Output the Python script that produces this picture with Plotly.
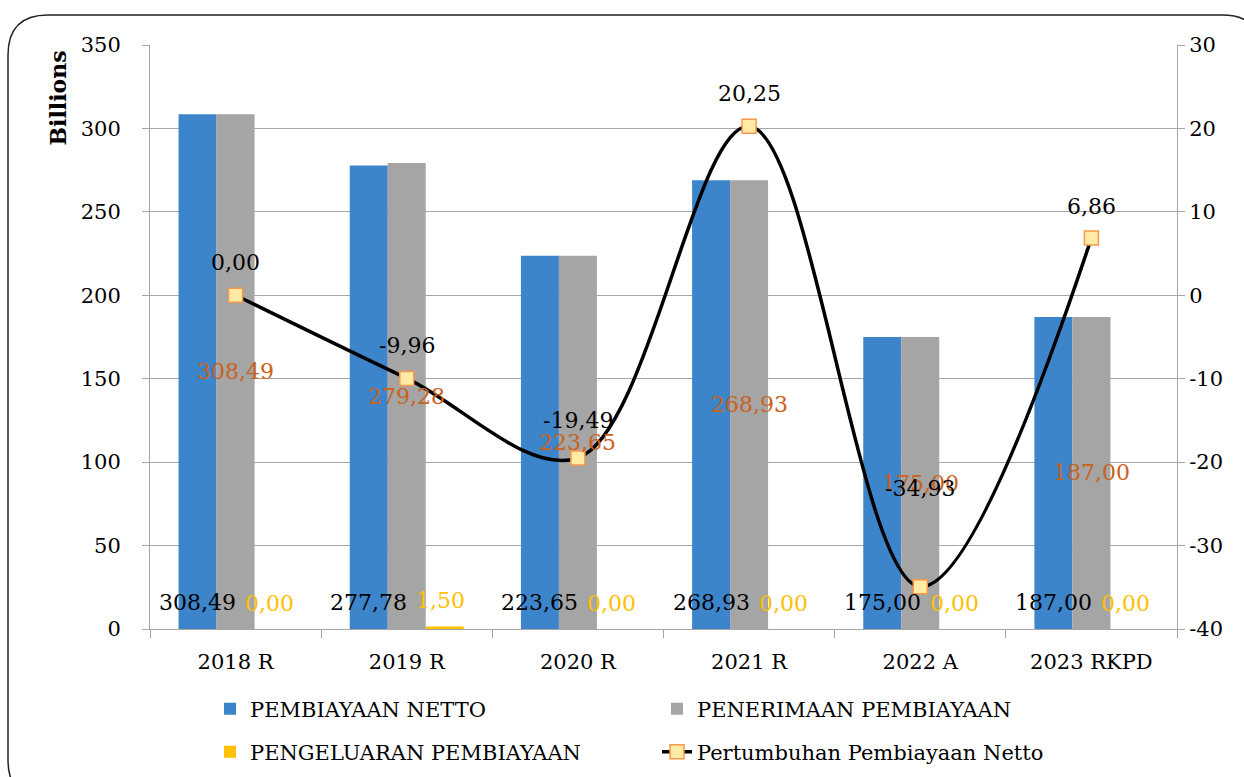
import plotly.graph_objects as go

# ---- data -------------------------------------------------------------
categories = ["2018 R", "2019 R", "2020 R", "2021 R", "2022 A", "2023 RKPD"]
pembiayaan_netto = [308.49, 277.78, 223.65, 268.93, 175.00, 187.00]
penerimaan_pembiayaan = [308.49, 279.28, 223.65, 268.93, 175.00, 187.00]
pengeluaran_pembiayaan = [0.00, 1.50, 0.00, 0.00, 0.00, 0.00]
pertumbuhan_netto = [0.00, -9.96, -19.49, 20.25, -34.93, 6.86]

left_ticks = [0, 50, 100, 150, 200, 250, 300, 350]
right_ticks = [-40, -30, -20, -10, 0, 10, 20, 30]

# ---- layout geometry --------------------------------------------------
W, H = 1244, 777
ML, MR, MT, MB = 150, 67, 45, 148
PW, PH = W - ML - MR, H - MT - MB
BARGAP = 0.334
BAR_PX = (1 - BARGAP) * PW / len(categories) / 3

FONT = "DejaVu Serif"
BLUE, GRAY, YELLOW = "#3d85cb", "#a5a5a5", "#ffc000"
ORANGE_TXT = "#c9621c"
GRID = "#a6a6a6"
TICK_SIZE = 21
LABEL_SIZE = 22

# vertical lift (px) of each growth label above its marker
label_lift = [33, 33, 37, 33, 98, 32]


def idr(v):
    return f"{v:.2f}".replace(".", ",")


def px(x, y):
    """pixel position -> paper coordinates"""
    return (x - ML) / PW, (H - MB - y) / PH


fig = go.Figure()

fig.add_trace(go.Bar(
    x=categories, y=pembiayaan_netto, name="PEMBIAYAAN NETTO",
    marker=dict(color=BLUE, line=dict(width=0)), legend="legend",
))
fig.add_trace(go.Bar(
    x=categories, y=penerimaan_pembiayaan, name="PENERIMAAN PEMBIAYAAN",
    marker=dict(color=GRAY, line=dict(width=0)), legend="legend",
))
fig.add_trace(go.Bar(
    x=categories, y=pengeluaran_pembiayaan, name="PENGELUARAN PEMBIAYAAN",
    marker=dict(color=YELLOW, line=dict(width=0)), legend="legend2",
))
fig.add_trace(go.Scatter(
    x=categories, y=pertumbuhan_netto, name="Pertumbuhan Pembiayaan Netto",
    mode="lines+markers", yaxis="y2", legend="legend2",
    line=dict(color="black", width=3.5, shape="spline", smoothing=1),
    marker=dict(symbol="square", size=14, color="#ffeaa6",
                line=dict(color="#f59a4a", width=1.5)),
))

annotations = []
for i, cat in enumerate(categories):
    # net financing value at the foot of the blue bar
    annotations.append(dict(
        x=cat, y=0, xref="x", yref="y", text=idr(pembiayaan_netto[i]),
        xshift=-BAR_PX, yshift=27, showarrow=False,
        font=dict(family=FONT, size=LABEL_SIZE, color="black"),
    ))
    # receipts value in the middle of the gray bar
    annotations.append(dict(
        x=cat, y=penerimaan_pembiayaan[i] / 2, xref="x", yref="y",
        text=idr(penerimaan_pembiayaan[i]), showarrow=False,
        font=dict(family=FONT, size=LABEL_SIZE, color=ORANGE_TXT),
    ))
    # expenditure value above the yellow bar
    annotations.append(dict(
        x=cat, y=pengeluaran_pembiayaan[i], xref="x", yref="y",
        text=idr(pengeluaran_pembiayaan[i]), xshift=BAR_PX - 4, yshift=26,
        showarrow=False, font=dict(family=FONT, size=LABEL_SIZE, color=YELLOW),
    ))
    # growth value above the marker
    annotations.append(dict(
        x=cat, y=pertumbuhan_netto[i], xref="x", yref="y2",
        text=idr(pertumbuhan_netto[i]), yshift=label_lift[i],
        showarrow=False, font=dict(family=FONT, size=LABEL_SIZE, color="black"),
    ))

annotations.append(dict(
    x=px(57, 0)[0], y=1, xref="paper", yref="paper", text="<b>Billions</b>",
    textangle=-90, xanchor="center", yanchor="top", yshift=-4, showarrow=False,
    font=dict(family=FONT, size=22, color="black"),
))

# rounded frame around the whole chart
x0, y0 = px(8, 15)
x1, y1 = px(1262, 800)
rx = 40 / PW
ry = 40 / PH
frame = (
    f"M {x0} {y0 - ry} Q {x0} {y0} {x0 + rx} {y0} "
    f"L {x1 - rx} {y0} Q {x1} {y0} {x1} {y0 - ry} "
    f"L {x1} {y1 + ry} Q {x1} {y1} {x1 - rx} {y1} "
    f"L {x0 + rx} {y1} Q {x0} {y1} {x0} {y1 + ry} Z"
)

fig.update_layout(
    width=W, height=H,
    margin=dict(l=ML, r=MR, t=MT, b=MB, autoexpand=False),
    paper_bgcolor="white", plot_bgcolor="white",
    barmode="group", bargap=BARGAP, bargroupgap=0,
    font=dict(family=FONT, size=TICK_SIZE, color="black"),
    showlegend=True,
    annotations=annotations,
    shapes=[dict(type="path", path=frame, xref="paper", yref="paper",
                 line=dict(color="#222222", width=1.5), layer="above")],
    xaxis=dict(
        showgrid=False, showline=True, linecolor=GRID, linewidth=1,
        ticks="outside", tickson="boundaries", ticklen=8, tickcolor=GRID,
        ticklabelstandoff=14,
        tickfont=dict(family=FONT, size=TICK_SIZE, color="black"),
    ),
    yaxis=dict(
        range=[0, 350], tickvals=left_ticks,
        ticktext=[str(t) for t in left_ticks],
        showgrid=True, gridcolor=GRID,
        gridwidth=1, showline=True, linecolor=GRID, ticks="outside",
        ticklen=7, tickcolor=GRID, zeroline=False, ticklabelstandoff=17,
        tickfont=dict(family=FONT, size=TICK_SIZE, color="black"),
    ),
    yaxis2=dict(
        range=[-40, 30], tickvals=right_ticks,
        ticktext=[str(t) for t in right_ticks],
        overlaying="y", side="right",
        showgrid=False, showline=True, linecolor=GRID, ticks="outside",
        ticklen=7, tickcolor=GRID, zeroline=False,
        tickfont=dict(family=FONT, size=TICK_SIZE, color="black"),
    ),
    legend=dict(
        orientation="h", x=px(210, 0)[0], y=px(0, 709)[1], yanchor="middle",
        xanchor="left", entrywidth=402, entrywidthmode="pixels",
        font=dict(family=FONT, size=TICK_SIZE, color="black"),
        bgcolor="rgba(0,0,0,0)",
    ),
    legend2=dict(
        orientation="h", x=px(210, 0)[0], y=px(0, 752)[1], yanchor="middle",
        xanchor="left", entrywidth=402, entrywidthmode="pixels",
        font=dict(family=FONT, size=TICK_SIZE, color="black"),
        bgcolor="rgba(0,0,0,0)",
    ),
)

fig.write_html("out.html")
